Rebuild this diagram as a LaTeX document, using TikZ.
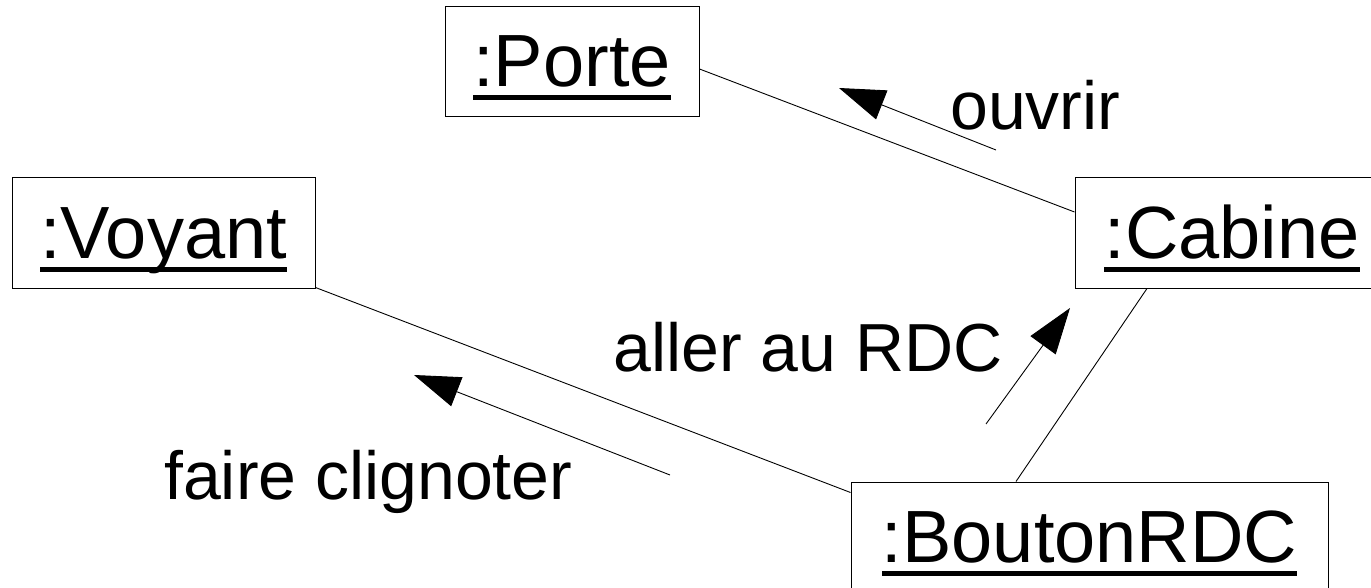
\documentclass[tikz,border=0pt]{standalone}
\usepackage{fontspec}
\setmainfont{Liberation Sans}
\usetikzlibrary{arrows.meta,calc}
% underlined object name (UML instance)
\newsavebox\ulbox
\newcommand\ulname[1]{\sbox\ulbox{#1}\rlap{\rule[-0.18em]{\wd\ulbox}{0.07em}}\usebox\ulbox}
\tikzset{
  obj/.style={draw, line width=1pt, inner sep=0pt, minimum height=110pt,
    font=\fontsize{74}{82}\selectfont, text height=56pt, text depth=5pt},
  link/.style={line width=0.9pt},
  msg/.style={line width=0.9pt, -{Triangle[length=46pt,width=31pt]}},
  msglabel/.style={anchor=base west, inner sep=0pt, font=\fontsize{68}{78}\selectfont}
}
\begin{document}
\begin{tikzpicture}[x=1pt,y=-1pt]
  \useasboundingbox (0,0) rectangle (1371,588);
  \clip (0,0) rectangle (1371,588);

  % objects
  \node[obj, minimum width=254pt] (porte)  at (572,61.5)   {\ulname{:Porte}};
  \node[obj, minimum width=303pt] (voyant) at (163.5,233)  {\ulname{:Voyant}};
  \node[obj, minimum width=314pt] (cabine) at (1232,233)   {\ulname{:Cabine}};
  \node[obj, minimum width=477pt] (bouton) at (1089.5,537) {\ulname{:BoutonRDC}};

  % links
  \draw[link] ($(porte.east)+(0,7.5)$) -- ($(cabine.west)+(0,-21)$);
  \draw[link] ($(voyant.south east)+(0,-1)$) -- ($(bouton.north west)+(0,11)$);
  \draw[link] ($(cabine.south)+(-85,0)$) -- ($(bouton.north)+(-73.5,0)$);

  % messages
  \coordinate (m1s) at (996,150);  \coordinate (m1e) at (839,88);
  \coordinate (m2s) at (986,424);  \coordinate (m2e) at (1070,308);
  \coordinate (m3s) at (670,475);  \coordinate (m3e) at (414,375);
  \draw[msg] (m1s) -- (m1e);
  \draw[msg] (m2s) -- (m2e);
  \draw[msg] (m3s) -- (m3e);

  \node[msglabel] (l1) at (950,130) {ouvrir};
  \node[msglabel] (l2) at (613,371) {aller au RDC};
  \node[msglabel] (l3) at (164,499) {faire clignoter};
\end{tikzpicture}
\end{document}
